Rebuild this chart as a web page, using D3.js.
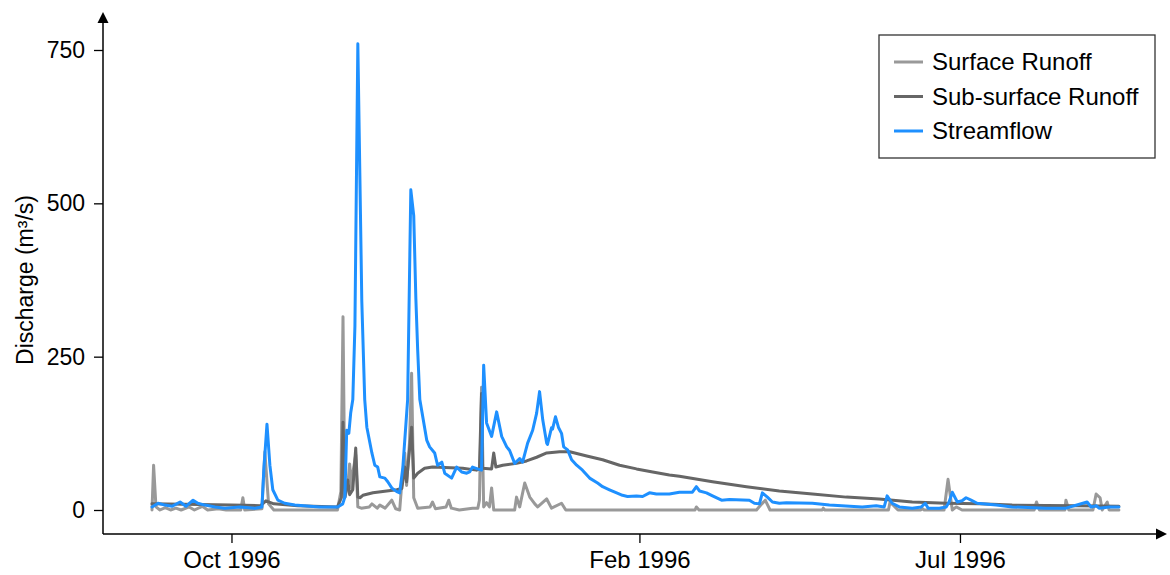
<!DOCTYPE html>
<html>
<head>
<meta charset="utf-8">
<script src="https://cdn.jsdelivr.net/npm/d3@7"></script>
<style>
  body { margin: 0; background: #fff; }
  text { font-family: "Liberation Sans", Arial, Helvetica, sans-serif; }
</style>
</head>
<body>
<div id="chart"></div>
<script>
// day index from start of record, value in m3/s
const surfaceRunoff = [
  [0,0],[0.6,73],[1.5,5],[3,0],[5,4],[7,0],[9,3],[11,0],[14,5],[16,0],[19,6],[21,0],[25,2],[28,0],
  [33.5,0],[34.3,20],[35,0],[41.5,2],[42.6,95],[44,10],[46,0],[70,0],[71.3,30],[72.1,315],[72.8,20],
  [73.9,40],[74.6,75],[75.4,35],[75.8,60],[76.9,90],[77.7,5],[79,3],[82,5],[83,10],[85,3],[86,8],
  [88,3],[90.5,16],[92,2],[93.5,0],[94.3,44],[95.4,93],[96.1,40],[97.2,110],[98,223],[98.8,20],
  [100.3,3],[105,5],[105.9,13],[107,2],[111,5],[112,16],[113,3],[116,0],[121,3],[123,3],[123.6,16],
  [124.4,200],[125.2,5],[126.3,12],[127.4,5],[128.2,36],[129,0],[136.9,0],[137.6,21],[138.8,5],
  [140.7,44],[142.6,21],[144.5,10],[145.6,5],[149,18],[150.8,3],[154.6,11],[156.2,0],[165,0],
  [205,0],[205.5,5],[206.5,0],[228.2,0],[229.8,8],[231.5,16],[233.3,0],[253,0],[253.4,3],[254,0],
  [278,0],[278.6,13],[281.6,0],[290.2,0],[290.6,3],[291.5,0],[299,0],[300.5,50],[302.1,0],[303.6,5],
  [305.8,0],[333,0],[333.9,13],[335,0],[344.6,0],[345,16],[346.1,0],[355.2,0],[356.4,26],[357.9,20],
  [358.7,0],[360.6,13],[361.3,0],[365,0]
];

const subsurfaceRunoff = [
  [0,10],[30,8],[41,7],[43,15],[46,10],[55,7],[70,5],[71.5,20],[72.1,143],[72.8,21],[73.9,49],
  [74.6,25],[75.8,33],[76.9,101],[77.7,21],[78.5,20],[79.6,24],[83.4,28],[88.6,31],[92.4,33],
  [94.3,35],[95.4,70],[96.1,46],[97.2,98],[98,135],[98.8,52],[100.3,60],[102.9,68],[105.9,70],
  [117.3,68],[122.5,65],[123.6,67],[124.4,190],[124.8,68],[128.2,67],[129,93],[129.8,70],[132.4,73],
  [137.6,76],[141.4,80],[145.2,86],[149,93],[153.9,95],[157.7,95],[164.1,88],[170.1,82],[176.5,73],
  [182.9,67],[189,62],[195.3,57],[199.1,55],[211.6,46],[224.4,38],[236.8,31],[249.3,26],[262.1,21],
  [274.5,18],[287,13],[299.8,11],[312.2,10],[324.7,8],[337.5,7.5],[349.9,7],[365,6]
];

const streamflow = [
  [0,5],[2.3,11],[4.9,8],[7.5,6],[10.6,13],[12.8,6],[15.5,16],[17.3,11],[20,8],[23.8,5],[27.5,3],
  [33.2,5],[38.8,3],[41.5,5],[42.2,65],[43.4,140],[44.5,73],[45.6,33],[47.5,16],[50.1,11],[53.9,8],
  [59.6,6],[63.3,5],[70.1,5],[72,10],[72.8,21],[73.5,130],[74.3,125],[75,158],[75.8,180],[76.6,300],
  [77.7,760],[79.2,340],[80.3,180],[81.1,135],[83,93],[84.1,73],[85.2,70],[86,54],[87.9,52],[89,46],
  [90.5,36],[92.4,30],[93.5,28],[94.7,70],[96.5,180],[97.7,522],[98.8,480],[99.6,345],[100.3,260],
  [101.1,180],[103.7,114],[104.8,103],[106.7,93],[107.8,73],[109.4,78],[110.5,60],[113.1,52],
  [115,70],[116.9,62],[118.8,60],[119.9,62],[121,70],[122.9,67],[124.4,65],[125.2,236],[126.3,142],
  [128.2,120],[130.1,160],[132,120],[133.9,103],[135,97],[136.9,76],[138.8,84],[139.9,78],
  [141.8,109],[143.7,130],[145.2,158],[146.3,193],[147.5,147],[149,109],[149.3,107],[150.8,134],
  [151.2,132],[152.3,152],[153.5,134],[154.6,125],[155.4,103],[156.9,98],[158.4,82],[160.3,73],
  [162.5,65],[165.2,52],[168.2,44],[170.1,38],[172.7,33],[175.4,28],[177.6,24],[179.5,22],
  [182.9,23],[185.2,22],[187.8,28],[190.4,26],[195.3,26],[199.1,29],[204,29],[205.5,38],[206.7,31],
  [209.3,28],[211.6,23],[215,16],[218,17],[225.5,16],[227.4,11],[229.3,10],[230.4,28],[232.3,21],
  [234.2,13],[236.8,11],[239.5,12],[249.3,11],[255.7,8],[268.1,5],[273.4,7],[276.4,5],[277.5,23],
  [279.4,11],[282.1,5],[287,3],[290.4,5],[291.9,11],[293,3],[297.2,3],[299.8,5],[300.9,13],
  [302.1,29],[304,13],[305.8,15],[307.3,20],[309.2,16],[311.5,11],[318.7,8],[324.7,5],[337.5,3],
  [345,3],[353,13],[354.5,5],[356.4,7],[357.5,3],[361.3,5],[365,5]
];

const xTickDays = [30, 184, 305];
const xTickLabels = ["Oct 1996", "Feb 1996", "Jul 1996"];
const yTicks = [0, 250, 500, 750];

const seriesNames = ["Surface Runoff", "Sub-surface Runoff", "Streamflow"];
const seriesColors = ["#999999", "#666666", "#1E90FF"];

const svgWidth = 1170;
const svgHeight = 575;
const margin = { top: 12, right: 5, bottom: 41, left: 103 };
const width = svgWidth - margin.left - margin.right;
const height = svgHeight - margin.top - margin.bottom;

const s = d3.select("#chart")
    .append("svg")
    .attr("width", svgWidth)
    .attr("height", svgHeight);

const svg = s.append("g")
    .attr("transform", "translate(" + margin.left + "," + margin.top + ")");

const xScale = d3.scaleLinear().domain([-18.5, 382.4]).range([0, width]);
const yScale = d3.scaleLinear().domain([0, 750]).range([height - 24, 38]);

const line = d3.line()
    .x(d => xScale(d[0]))
    .y(d => yScale(d[1]));

const allSeries = [surfaceRunoff, subsurfaceRunoff, streamflow];

allSeries.forEach((data, i) => {
    svg.append("path")
        .datum(data)
        .attr("fill", "none")
        .attr("stroke", seriesColors[i])
        .attr("stroke-width", 3)
        .attr("stroke-linejoin", "round")
        .attr("stroke-linecap", "round")
        .attr("d", line);
});

// axes
svg.append("g")
    .attr("class", "y-axis")
    .call(d3.axisLeft(yScale).tickValues(yTicks).tickSize(9).tickPadding(9))
    .call(g => {
        g.select(".domain").remove();
        g.selectAll("line").attr("stroke", "#000").attr("stroke-width", 1.3);
        g.selectAll("text").attr("fill", "#000").style("font-size", "23px")
            .style("font-family", "'Liberation Sans', Arial, sans-serif");
    });

svg.append("g")
    .attr("class", "x-axis")
    .attr("transform", "translate(0," + height + ")")
    .call(d3.axisBottom(xScale).tickValues(xTickDays)
        .tickFormat((d, i) => xTickLabels[i]).tickSize(9).tickPadding(8))
    .call(g => {
        g.select(".domain").remove();
        g.selectAll("line").attr("stroke", "#000").attr("stroke-width", 1.3);
        g.selectAll("text").attr("fill", "#000").style("font-size", "24px")
            .style("font-family", "'Liberation Sans', Arial, sans-serif");
    });

// axis lines with arrow heads
svg.append("line")
    .attr("x1", 0).attr("y1", height).attr("x2", 0).attr("y2", 6)
    .attr("stroke", "#000").attr("stroke-width", 1.5);
svg.append("line")
    .attr("x1", 0).attr("y1", height).attr("x2", width - 6).attr("y2", height)
    .attr("stroke", "#000").attr("stroke-width", 1.5);
svg.append("path")
    .attr("d", "M0,0 L-5.5,11 L5.5,11 Z")
    .attr("fill", "#000");
svg.append("path")
    .attr("d", "M" + (width + 2) + "," + height + " L" + (width - 9) + "," + (height - 5.5) +
        " L" + (width - 9) + "," + (height + 5.5) + " Z")
    .attr("fill", "#000");

// y label
s.append("text")
    .attr("transform", "translate(33," + (margin.top + yScale(375)) + ") rotate(-90)")
    .attr("text-anchor", "middle")
    .style("font-size", "23px")
    .text("Discharge (m³/s)");

// legend
const legend = s.append("g")
    .attr("class", "legend")
    .attr("transform", "translate(879,35)");

legend.append("rect")
    .attr("width", 276)
    .attr("height", 123)
    .attr("fill", "#fff")
    .attr("stroke", "#333")
    .attr("stroke-width", 1.3);

seriesNames.forEach((name, i) => {
    const yy = 27 + i * 34.5;
    legend.append("line")
        .attr("x1", 15).attr("x2", 44)
        .attr("y1", yy).attr("y2", yy)
        .attr("stroke", seriesColors[i])
        .attr("stroke-width", 3);
    legend.append("text")
        .attr("x", 53)
        .attr("y", yy)
        .attr("dy", "0.35em")
        .style("font-size", "24px")
        .text(name);
});
</script>
</body>
</html>
